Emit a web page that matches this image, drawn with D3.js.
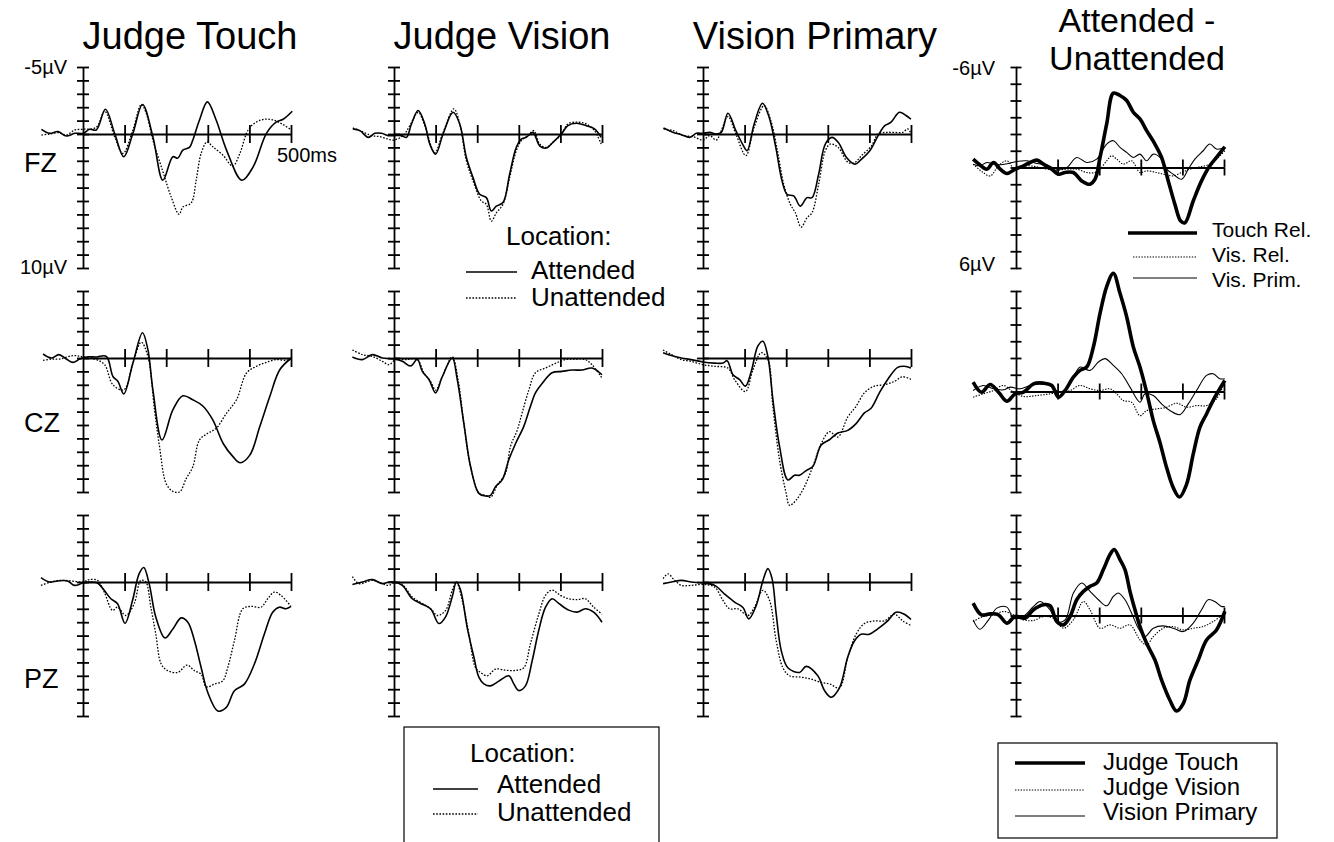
<!DOCTYPE html>
<html>
<head>
<meta charset="utf-8">
<script src="https://cdn.jsdelivr.net/npm/d3@7/dist/d3.min.js"></script>
<style>
  body { margin: 0; background: #fff; }
  svg { display: block; }
  text { font-family: "Liberation Sans", Arial, Helvetica, sans-serif; fill: #000; }
</style>
</head>
<body>
<svg id="chart" width="1334" height="842"></svg>
<script>
// ---- data: [time in ms, amplitude in µV] (negative is plotted up) ----
var touchFzAtt = [[-100,-0.35],[-80,-0.05],[-60,-0.18],[-40,0.15],[-20,-0.05],[0,-0.05],[16,-0.35],[32,-0.3],[54,-1.85],[76,-0.05],[98,1.7],[120,-0.05],[143,-2.2],[168,0.2],[192,3.45],[216,1.7],[228,1.8],[240,1.2],[256,1.0],[264,0.45],[280,-1.05],[299,-2.4],[320,-1.05],[345,1.2],[382,3.45],[409,2.45],[441,-0.05],[465,-0.9],[481,-1.1],[503,-1.7]];
var touchFzUnatt = [[-100,0.08],[-80,0],[-60,-0.1],[-40,0.08],[-20,-0.3],[0,-0.35],[32,-0.5],[52,-1.7],[76,0.2],[96,1.45],[120,-0.3],[140,-2.2],[152,-1.55],[168,0.45],[192,2.8],[212,4.7],[231,6.0],[240,5.45],[260,5.15],[272,3.45],[284,1.45],[298,0.6],[312,0.95],[337,1.6],[360,2.4],[377,1.45],[397,-0.3],[417,-0.9],[437,-1.1],[457,-1.05],[481,-0.7],[501,-0.3]];
var touchCzAtt = [[-96,-0.3],[-76,0],[-58,-0.25],[-40,0.08],[-24,0.33],[-8,0.08],[8,-0.08],[32,-0.08],[56,-0.12],[72,1.38],[84,1.75],[98,2.68],[120,0.38],[143,-1.88],[156,-0.62],[168,2.38],[190,6.12],[216,3.88],[240,2.82],[264,3.12],[288,3.58],[312,4.62],[337,6.38],[361,7.38],[378,7.82],[401,7.25],[425,5.12],[449,2.88],[473,0.88],[501,0]];
var touchCzUnatt = [[-96,0.18],[-76,0.08],[-56,0.08],[-24,-0.18],[0,-0.08],[32,0.12],[52,0.5],[72,2.0],[98,2.38],[120,0.38],[140,-1.18],[156,-0.12],[172,3.88],[184,6.62],[200,9.38],[216,9.95],[232,10.0],[248,9.0],[264,8.12],[280,6.12],[300,5.62],[320,5.25],[345,4.12],[369,3.12],[393,1.12],[417,0.62],[441,0.32],[465,0.12],[489,0.18],[501,0]];
var touchPzAtt = [[-101,-0.32],[-81,0],[-61,-0.08],[-37,-0.08],[-21,0.25],[0,0.08],[19,0],[35,0.08],[51,0.62],[67,1.25],[83,1.62],[101,3.08],[119,1.38],[135,-0.62],[146,-1.08],[159,0.12],[175,2.62],[197,4.18],[216,3.5],[236,2.68],[252,3.0],[268,4.38],[284,6.38],[300,8.25],[324,9.62],[344,9.38],[364,8.12],[388,7.62],[412,6.12],[436,3.88],[456,2.25],[472,1.88],[488,2.0],[500,1.82]];
var touchPzUnatt = [[-101,0.25],[-77,0],[-53,-0.12],[-29,-0.08],[0,0],[15,-0.18],[35,-0.12],[51,0.75],[71,2.12],[83,1.88],[103,2.5],[123,1.62],[139,-0.12],[151,0],[163,1.88],[175,3.88],[188,6.12],[204,6.62],[228,6.75],[250,6.2],[268,6.62],[284,6.88],[296,7.82],[316,7.62],[336,7.38],[348,6.38],[364,4.38],[384,2.0],[404,1.82],[428,1.88],[444,1.25],[460,0.75],[476,1.0],[500,1.82]];

var visionFzAtt = [[-99,-0.38],[-82,-0.25],[-62,0.25],[-46,-0.05],[-30,-0.05],[-14,0.12],[0,0.12],[18,0.12],[30,0.25],[42,-0.75],[58,-1.75],[74,-0.75],[86,0.75],[100,1.5],[118,0],[142,-1.62],[158,-0.75],[174,1.75],[190,3.25],[206,4.5],[222,4.75],[234,5.75],[246,5.38],[262,5.12],[278,3.0],[294,1.0],[306,0.38],[318,0.25],[334,-0.12],[350,0.88],[366,1.05],[382,0.62],[402,0],[418,-0.62],[438,-0.8],[462,-0.62],[482,-0.38],[498,0.25]];
var visionFzUnatt = [[-99,-0.45],[-78,-0.2],[-54,0.12],[-34,0.2],[-14,0.38],[0,0.45],[22,0.12],[38,-0.62],[58,-1.62],[74,-0.62],[98,1.38],[118,-0.12],[144,-1.88],[158,-0.75],[174,2.0],[190,3.5],[210,5.0],[222,5.25],[234,6.5],[246,5.88],[262,5.25],[278,3.25],[294,1.25],[306,0.5],[322,0.12],[336,-0.25],[350,0.75],[366,1.0],[382,0.62],[402,0.05],[418,-0.75],[442,-0.88],[462,-0.75],[482,-0.25],[498,0.75]];
var visionCzAtt = [[-100,-0.08],[-76,0.12],[-52,-0.25],[-28,0],[0,0.08],[20,0.25],[40,0.6],[56,0.1],[68,1.0],[84,1.6],[100,2.6],[116,1.4],[140,0],[152,1.6],[168,4.9],[184,8.1],[204,10.1],[220,10.3],[232,10.25],[244,9.6],[260,9.1],[276,7.6],[292,6.4],[312,5.1],[328,3.6],[340,2.6],[356,1.9],[380,1.1],[404,1.0],[428,0.9],[452,0.9],[476,0.75],[500,1.25]];
var visionCzUnatt = [[-100,-0.6],[-76,-0.25],[-52,-0.12],[-28,0.25],[-12,0.5],[4,0.12],[28,0.12],[56,0.12],[72,1.12],[88,1.75],[100,2.4],[116,1.4],[140,-0.08],[154,1.62],[168,4.9],[184,8.1],[204,10.1],[220,10.25],[232,10.4],[248,9.5],[268,8.6],[280,6.6],[296,5.4],[308,4.1],[324,2.4],[340,1.1],[364,0.75],[388,0.4],[412,0.12],[436,0.08],[460,0.12],[476,0.5],[500,1.5]];
var visionPzAtt = [[-100,0.18],[-76,0],[-52,-0.18],[-28,0.12],[-12,0],[0,0],[20,0.25],[44,1.25],[64,1.6],[88,2.0],[108,3.1],[124,2.6],[140,1.1],[150,0],[160,0.6],[176,3.4],[192,5.6],[204,7.1],[216,7.6],[232,7.75],[252,7.4],[276,7.0],[288,7.6],[300,8.1],[316,7.75],[332,5.9],[348,3.6],[364,1.9],[380,1.25],[396,1.6],[420,2.1],[440,2.25],[460,2.0],[480,2.25],[500,3.0]];
var visionPzUnatt = [[-100,-0.4],[-84,0.12],[-52,-0.12],[-28,0.12],[-12,0.25],[4,0],[20,0.18],[44,1.12],[76,1.75],[92,2.12],[104,2.5],[124,2.12],[140,0.62],[150,0],[164,1.38],[180,3.88],[196,6.4],[208,6.75],[224,7.0],[244,6.5],[268,6.58],[292,6.6],[312,6.4],[328,4.6],[348,2.4],[364,1.0],[380,0.6],[400,1.0],[420,1.25],[440,1.32],[460,1.25],[480,1.88],[500,2.4]];

var primaryFzAtt = [[-95,-0.45],[-71,-0.12],[-52,0.05],[-32,0.25],[-16,-0.05],[0,-0.05],[16,-0.12],[32,0],[44,-0.12],[60,-1.55],[79,-0.25],[95,0.75],[106,1.25],[123,-0.75],[143,-2.3],[159,-1.25],[175,1.0],[190,3.5],[202,4.5],[218,4.62],[234,5.38],[250,4.75],[262,4.75],[278,3.0],[294,0.75],[310,0.25],[325,0.62],[345,1.75],[365,2.25],[381,1.88],[401,1.25],[421,0.12],[437,-0.62],[452,-0.88],[472,-1.62],[488,-1.38],[500,-1.1]];
var primaryFzUnatt = [[-95,-0.38],[-71,-0.25],[-48,0.12],[-24,0.2],[0,0.45],[16,0.12],[32,0.45],[44,-0.25],[60,-1.3],[79,0],[103,1.62],[123,-0.5],[147,-2.12],[163,-1.0],[179,1.25],[194,3.75],[210,5.25],[222,5.88],[236,6.95],[250,6.25],[262,5.88],[278,3.75],[294,1.25],[306,0.75],[325,1.0],[349,2.12],[365,2.12],[381,1.62],[405,0.88],[421,0],[440,-0.12],[460,-0.12],[480,-0.12],[492,-0.38],[500,-0.05]];
var primaryCzAtt = [[-96,-0.4],[-76,-0.18],[-52,0],[-28,0.12],[0,0.3],[28,0.38],[48,0.38],[58,0.2],[72,1.25],[88,1.62],[102,2.1],[116,1.0],[132,-0.9],[144,-1.25],[156,-0.1],[168,3.1],[184,6.6],[204,9.1],[220,8.75],[232,8.75],[248,8.4],[264,8.1],[284,6.5],[304,6.1],[324,5.6],[348,5.4],[368,4.9],[388,4.1],[404,3.75],[424,2.6],[444,1.6],[468,0.7],[484,0.62],[500,0.75]];
var primaryCzUnatt = [[-96,-0.6],[-76,-0.25],[-52,0.12],[-28,0.25],[0,0.5],[28,0.62],[60,0.75],[76,1.62],[102,2.5],[120,0.88],[140,-0.4],[156,0.12],[168,3.62],[184,7.62],[200,10.1],[208,11.0],[224,10.6],[244,9.6],[264,8.1],[284,6.4],[304,5.5],[324,5.9],[348,4.4],[368,3.6],[388,2.6],[412,2.1],[436,2.0],[460,1.75],[480,1.4],[500,1.6]];
var primaryPzAtt = [[-96,0.12],[-76,0],[-52,-0.12],[-28,0],[0,0.08],[28,0.25],[52,0.9],[76,1.5],[96,1.9],[110,2.75],[128,1.75],[144,-0.1],[156,-1.0],[166,-0.25],[176,2.4],[188,5.1],[204,6.4],[232,6.75],[248,6.3],[276,7.0],[292,8.1],[308,8.6],[328,7.9],[348,5.6],[364,4.4],[380,3.9],[400,3.9],[420,3.5],[444,2.9],[464,2.25],[484,2.4],[500,2.8]];
var primaryPzUnatt = [[-96,-0.25],[-84,-0.6],[-68,-0.12],[-52,0.25],[-28,0.25],[0,0.18],[28,0.38],[48,1.38],[64,2.0],[84,2.0],[108,2.5],[124,1.88],[144,0.62],[160,1.38],[176,4.4],[192,6.4],[208,7.0],[236,7.1],[260,7.25],[284,7.5],[304,7.6],[328,7.9],[348,5.6],[368,3.9],[388,3.1],[412,2.9],[436,2.9],[460,2.4],[480,2.9],[500,3.25]];

var diffFzTouch = [[-103,-0.5],[-87,-0.16],[-70,0.1],[-54,-0.3],[-38,0.1],[-22,0.36],[-2,0.1],[18,-0.1],[34,-0.3],[50,-0.44],[66,-0.2],[86,0.1],[102,0.4],[118,0.3],[138,0.3],[158,0.8],[178,1.0],[190,0.7],[202,-0.6],[218,-2.6],[234,-4.44],[250,-4.3],[266,-4.0],[282,-3.3],[298,-2.9],[314,-2.2],[334,-1.4],[350,-0.6],[366,0.8],[382,2.2],[396,3.2],[406,3.3],[426,2.0],[446,0.8],[466,-0.1],[482,-0.6],[502,-1.24]];
var diffFzVision = [[-103,-0.2],[-79,0.3],[-62,0.5],[-42,-0.1],[-22,-0.4],[-2,0.1],[26,-0.1],[50,-0.04],[74,0.1],[98,0.16],[122,0.1],[146,0.1],[170,0.3],[190,0.3],[202,0.1],[218,-0.4],[230,-0.7],[242,-0.5],[258,-0.2],[278,-0.4],[298,0.3],[314,0.2],[338,0.3],[354,0.4],[378,0.5],[398,0.3],[418,0.1],[442,-0.04],[466,-0.2],[490,-0.7],[502,-1.0]];
var diffFzPrimary = [[-103,-0.2],[-87,-0.1],[-70,-0.3],[-54,-0.2],[-38,-0.16],[-18,-0.24],[2,-0.36],[26,-0.4],[50,-0.24],[74,-0.16],[98,0.1],[122,0],[146,-0.6],[170,-0.3],[194,-0.5],[218,-1.4],[234,-1.6],[250,-1.2],[266,-0.9],[282,-0.6],[298,-0.8],[314,-0.4],[330,-0.8],[346,-0.6],[362,0.1],[378,0.4],[398,0.7],[414,0.1],[430,-0.5],[450,-1.0],[466,-1.4],[482,-1.1],[502,-1.2]];
var diffCzTouch = [[-103,-0.56],[-83,0.04],[-62,-0.42],[-42,0.04],[-22,0.58],[-2,0.14],[18,0.04],[42,-0.46],[66,-0.5],[86,-0.36],[102,0.34],[118,-0.06],[138,-0.86],[154,-1.26],[170,-1.46],[186,-2.66],[202,-4.66],[218,-6.26],[234,-7.06],[250,-5.86],[266,-4.46],[282,-2.66],[298,-1.46],[314,0.04],[330,1.74],[346,3.04],[362,4.54],[378,5.74],[393,6.3],[410,5.54],[426,3.74],[442,2.14],[458,1.34],[478,0.34],[502,-0.66]];
var diffCzVision = [[-103,0.34],[-79,0.14],[-54,-0.06],[-30,-0.36],[-6,0.04],[18,0.3],[50,0.24],[82,0.14],[106,0.04],[130,-0.06],[154,-0.36],[178,-0.16],[202,-0.06],[226,-0.16],[242,0.14],[258,0.54],[278,0.64],[298,1.44],[314,1.14],[338,1.04],[362,0.94],[386,0.7],[410,0.94],[434,0.84],[458,0.84],[482,0.44],[502,-0.56]];
var diffCzPrimary = [[-103,-0.06],[-79,-0.36],[-54,-0.16],[-30,-0.1],[-14,-0.26],[10,-0.16],[34,-0.36],[58,-0.46],[82,-0.36],[106,0.04],[130,-0.46],[154,-1.46],[178,-1.26],[198,-1.76],[214,-1.96],[234,-1.56],[254,-1.06],[274,-0.26],[298,0.64],[310,0.14],[330,0.24],[350,0.74],[370,1.14],[394,1.38],[414,0.74],[434,-0.06],[458,-0.96],[474,-1.06],[490,-0.76],[502,-0.76]];
var diffPzTouch = [[-103,-0.74],[-83,-0.04],[-62,-0.1],[-42,-0.04],[-22,0.46],[-2,0.06],[22,0.16],[42,-0.34],[66,-0.64],[82,-0.58],[98,0.36],[114,0.56],[130,0.06],[146,-0.94],[162,-1.44],[178,-1.74],[194,-1.94],[210,-2.74],[226,-3.64],[236,-3.94],[250,-3.34],[262,-2.74],[274,-1.44],[286,-0.34],[298,0.66],[314,1.66],[334,2.66],[350,3.86],[370,5.06],[386,5.7],[402,5.26],[418,3.86],[438,2.66],[458,1.46],[482,0.86],[502,-0.24]];
var diffPzVision = [[-103,0.36],[-79,0.06],[-54,-0.04],[-30,-0.24],[-6,-0.04],[18,0.26],[42,0.3],[66,0.06],[90,0.16],[114,0.76],[138,0.26],[162,-0.84],[178,-0.34],[202,0.76],[226,0.56],[250,0.76],[274,0.56],[298,1.46],[314,1.76],[330,1.26],[354,0.76],[378,0.66],[402,0.86],[426,0.76],[450,0.66],[474,0.36],[502,-0.14]];
var diffPzPrimary = [[-103,0.26],[-87,0.82],[-66,0.26],[-46,-0.44],[-22,-0.5],[-6,0.16],[18,0.06],[42,-0.54],[58,-0.84],[82,-0.34],[98,0.36],[118,0.26],[138,-1.34],[158,-1.94],[178,-1.44],[198,-0.94],[218,-0.58],[234,-1.14],[246,-1.34],[262,-0.94],[278,-0.14],[294,0.76],[310,1.26],[330,0.76],[354,0.62],[378,0.76],[402,0.96],[426,0.46],[446,-0.34],[462,-0.94],[478,-0.84],[494,-0.54],[502,-0.54]];

var columnTitles = ["Judge Touch", "Judge Vision", "Vision Primary"];
var diffTitle = ["Attended -", "Unattended"];
var sites = ["FZ", "CZ", "PZ"];
var timeTicks = [100, 200, 300, 400, 500];
var ampTicks = d3.range(-5, 11);   // -5 .. 10 µV
var diffTicks = d3.range(-6, 7);   // -6 .. 6 µV

// ---- layout ----
var svg = d3.select("#chart");
var colX0 = [83, 394, 703, 1016];   // x of time 0 for each column
var rowTop = [67, 291, 515];
var panelH = 201;
var msPx = 0.416;

var grid = [
  [[touchFzAtt, touchFzUnatt], [visionFzAtt, visionFzUnatt], [primaryFzAtt, primaryFzUnatt]],
  [[touchCzAtt, touchCzUnatt], [visionCzAtt, visionCzUnatt], [primaryCzAtt, primaryCzUnatt]],
  [[touchPzAtt, touchPzUnatt], [visionPzAtt, visionPzUnatt], [primaryPzAtt, primaryPzUnatt]]
];
var diffGrid = [
  [diffFzTouch, diffFzVision, diffFzPrimary],
  [diffCzTouch, diffCzVision, diffCzPrimary],
  [diffPzTouch, diffPzVision, diffPzPrimary]
];

var styles = {
  att:   { w: 1.6, dash: null },
  unatt: { w: 1.3, dash: "1.6,1.6" },
  touch: { w: 3.6, dash: null },
  vis:   { w: 1.1, dash: "1.4,1.4" },
  prim:  { w: 1.1, dash: null }
};

function drawPanel(col, row, series, styleList, domain, ticks, tickLen, xTickLen) {
  var x0 = colX0[col], top = rowTop[row];
  var x = d3.scaleLinear().domain([0, 500]).range([x0, x0 + 500 * msPx]);
  var y = d3.scaleLinear().domain(domain).range([top, top + panelH]);
  var g = svg.append("g");

  // y axis, ticks crossing both sides
  g.append("g").attr("transform", "translate(" + x0 + ",0)")
    .call(d3.axisLeft(y).tickValues(ticks).tickSize(tickLen).tickSizeOuter(0).tickFormat(""));
  g.append("g").attr("transform", "translate(" + x0 + ",0)")
    .call(d3.axisRight(y).tickValues(ticks).tickSize(tickLen).tickSizeOuter(0).tickFormat(""))
    .select(".domain").remove();

  // time axis at 0 µV, from 0 to 500 ms only
  var zy = y(0);
  g.append("g").attr("transform", "translate(0," + zy + ")")
    .call(d3.axisBottom(x).tickValues(timeTicks).tickSize(xTickLen).tickSizeOuter(0).tickFormat(""));
  g.append("g").attr("transform", "translate(0," + zy + ")")
    .call(d3.axisTop(x).tickValues(timeTicks).tickSize(xTickLen).tickSizeOuter(0).tickFormat(""))
    .select(".domain").remove();

  g.selectAll(".domain, .tick line").attr("stroke", "#000").attr("stroke-width", 1.8);

  var line = d3.line()
    .x(function(d) { return x(d[0]); })
    .y(function(d) { return y(d[1]); })
    .curve(d3.curveCatmullRom.alpha(0.5));

  series.forEach(function(s, i) {
    var st = styles[styleList[i]];
    g.append("path")
      .attr("d", line(s))
      .attr("fill", "none")
      .attr("stroke", "#000")
      .attr("stroke-width", st.w)
      .attr("stroke-linejoin", "round")
      .attr("stroke-dasharray", st.dash);
  });
}

for (var r = 0; r < 3; r++) {
  for (var c = 0; c < 3; c++) {
    drawPanel(c, r, grid[r][c], ["att", "unatt"], [-5, 10], ampTicks, 6, 9);
  }
  drawPanel(3, r, [diffGrid[r][1], diffGrid[r][2], diffGrid[r][0]], ["vis", "prim", "touch"], [-6, 6], diffTicks, 5.5, 8);
}

// ---- titles ----
var titleX = [190, 502, 815];
columnTitles.forEach(function(t, i) {
  svg.append("text").attr("x", titleX[i]).attr("y", 49)
    .attr("text-anchor", "middle").style("font-size", "38px").text(t);
});
diffTitle.forEach(function(t, i) {
  svg.append("text").attr("x", 1137).attr("y", 32 + i * 38)
    .attr("text-anchor", "middle").style("font-size", "34px").text(t);
});

// ---- site labels ----
var siteY = [172, 432, 688];
sites.forEach(function(s, i) {
  svg.append("text").attr("x", 24).attr("y", siteY[i])
    .style("font-size", "27px").text(s);
});

// ---- amplitude / time labels ----
function label(x, y, txt, size, anchor) {
  svg.append("text").attr("x", x).attr("y", y)
    .attr("text-anchor", anchor || "start")
    .style("font-size", size + "px").text(txt);
}
label(67, 74, "-5\u00B5V", 20, "end");
label(67, 274, "10\u00B5V", 20, "end");
label(995, 75, "-6\u00B5V", 20, "end");
label(995, 271, "6\u00B5V", 20, "end");
label(277, 162, "500ms", 20);

// ---- legends ----
function sample(x1, x2, y, st) {
  svg.append("line").attr("x1", x1).attr("x2", x2).attr("y1", y).attr("y2", y)
    .attr("stroke", "#000").attr("stroke-width", st.w)
    .attr("stroke-dasharray", st.dash);
}

// location legend inside the top middle panel
label(506, 245, "Location:", 26);
sample(466, 517, 272, styles.att);
label(531, 279, "Attended", 26);
sample(466, 517, 298, styles.unatt);
label(531, 306, "Unattended", 26);

// boxed location legend at the bottom
svg.append("rect").attr("x", 404).attr("y", 727).attr("width", 255).attr("height", 140)
  .attr("fill", "none").attr("stroke", "#000").attr("stroke-width", 1.2);
label(470, 762, "Location:", 26);
sample(433, 478, 789, styles.att);
label(497, 793, "Attended", 26);
sample(433, 478, 814, styles.unatt);
label(497, 821, "Unattended", 26);

// difference legend inside top right panel
sample(1128, 1197, 233, styles.touch);
label(1212, 237, "Touch Rel.", 21);
sample(1133, 1197, 257, styles.vis);
label(1212, 262, "Vis. Rel.", 21);
sample(1133, 1197, 278, styles.prim);
label(1212, 287, "Vis. Prim.", 21);

// boxed difference legend
svg.append("rect").attr("x", 998).attr("y", 743).attr("width", 279).attr("height", 95)
  .attr("fill", "none").attr("stroke", "#000").attr("stroke-width", 1.2);
sample(1015, 1085, 763, styles.touch);
label(1103, 770, "Judge Touch", 24);
sample(1015, 1085, 790, styles.vis);
label(1103, 795, "Judge Vision", 24);
sample(1015, 1085, 816, styles.prim);
label(1103, 820, "Vision Primary", 24);
</script>
</body>
</html>
